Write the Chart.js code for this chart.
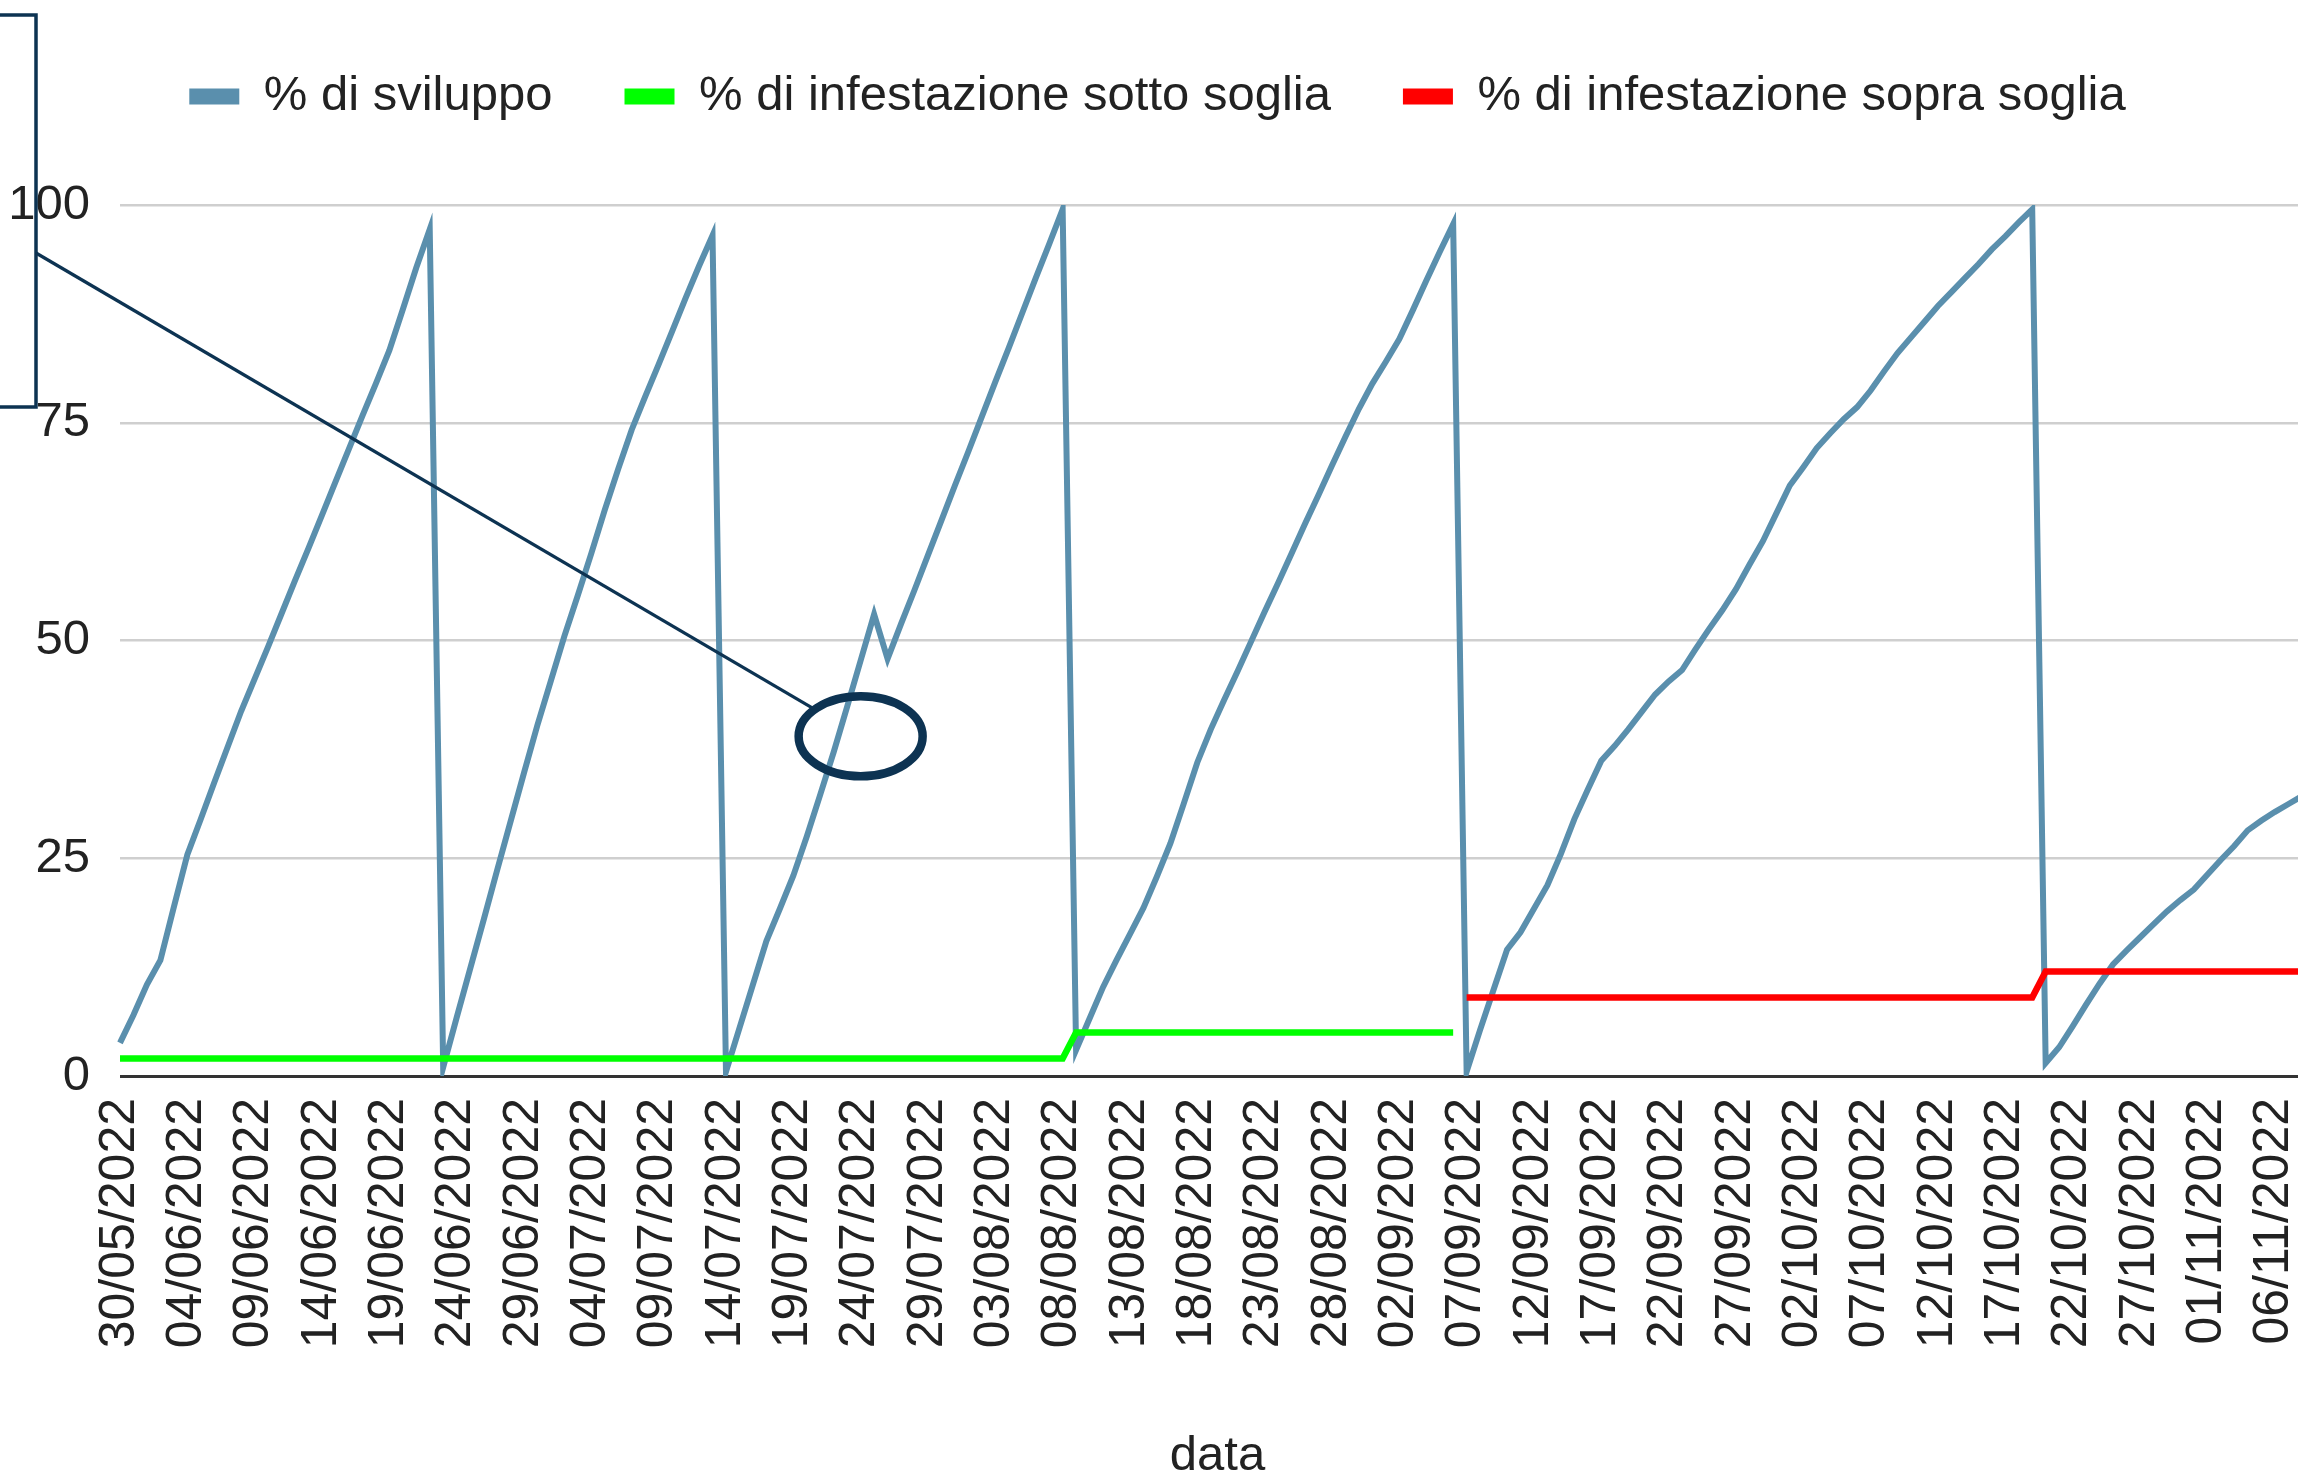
<!DOCTYPE html>
<html lang="it">
<head>
  <meta charset="UTF-8" />
  <title>% di sviluppo e infestazione</title>
  <script src="https://cdn.jsdelivr.net/npm/chart.js"></script>
  <style>
    html, body { margin: 0; padding: 0; background: #fff; overflow: hidden; }
    #wrap { width: 2315px; height: 1480px; }
  </style>
</head>
<body>
<div id="wrap"><canvas id="devChart" width="2315" height="1480"></canvas></div>

<script>
  // one category per day, 30/05/2022 -> 09/11/2022
  const dates = [
    '30/05/2022','31/05/2022',
    '01/06/2022','02/06/2022','03/06/2022','04/06/2022','05/06/2022','06/06/2022','07/06/2022','08/06/2022','09/06/2022','10/06/2022',
    '11/06/2022','12/06/2022','13/06/2022','14/06/2022','15/06/2022','16/06/2022','17/06/2022','18/06/2022','19/06/2022','20/06/2022',
    '21/06/2022','22/06/2022','23/06/2022','24/06/2022','25/06/2022','26/06/2022','27/06/2022','28/06/2022','29/06/2022','30/06/2022',
    '01/07/2022','02/07/2022','03/07/2022','04/07/2022','05/07/2022','06/07/2022','07/07/2022','08/07/2022','09/07/2022','10/07/2022',
    '11/07/2022','12/07/2022','13/07/2022','14/07/2022','15/07/2022','16/07/2022','17/07/2022','18/07/2022','19/07/2022','20/07/2022',
    '21/07/2022','22/07/2022','23/07/2022','24/07/2022','25/07/2022','26/07/2022','27/07/2022','28/07/2022','29/07/2022','30/07/2022','31/07/2022',
    '01/08/2022','02/08/2022','03/08/2022','04/08/2022','05/08/2022','06/08/2022','07/08/2022','08/08/2022','09/08/2022','10/08/2022',
    '11/08/2022','12/08/2022','13/08/2022','14/08/2022','15/08/2022','16/08/2022','17/08/2022','18/08/2022','19/08/2022','20/08/2022',
    '21/08/2022','22/08/2022','23/08/2022','24/08/2022','25/08/2022','26/08/2022','27/08/2022','28/08/2022','29/08/2022','30/08/2022','31/08/2022',
    '01/09/2022','02/09/2022','03/09/2022','04/09/2022','05/09/2022','06/09/2022','07/09/2022','08/09/2022','09/09/2022','10/09/2022',
    '11/09/2022','12/09/2022','13/09/2022','14/09/2022','15/09/2022','16/09/2022','17/09/2022','18/09/2022','19/09/2022','20/09/2022',
    '21/09/2022','22/09/2022','23/09/2022','24/09/2022','25/09/2022','26/09/2022','27/09/2022','28/09/2022','29/09/2022','30/09/2022',
    '01/10/2022','02/10/2022','03/10/2022','04/10/2022','05/10/2022','06/10/2022','07/10/2022','08/10/2022','09/10/2022','10/10/2022',
    '11/10/2022','12/10/2022','13/10/2022','14/10/2022','15/10/2022','16/10/2022','17/10/2022','18/10/2022','19/10/2022','20/10/2022',
    '21/10/2022','22/10/2022','23/10/2022','24/10/2022','25/10/2022','26/10/2022','27/10/2022','28/10/2022','29/10/2022','30/10/2022','31/10/2022',
    '01/11/2022','02/11/2022','03/11/2022','04/11/2022','05/11/2022','06/11/2022','07/11/2022','08/11/2022','09/11/2022'
  ];

  // % di sviluppo (one row per month)
  const sviluppo = [
    3.8, 7,
    10.5, 13.3, 19.4, 25.4, 29.5, 33.7, 37.8, 41.9, 45.6, 49.3, 53.1, 56.9, 60.6, 64.4, 68.2,
    72, 75.8, 79.5, 83.3, 88, 92.8, 97.2, 1, 6.7, 12.3, 17.9, 23.6, 29.2, 34.8, 40.3,
    45.4, 50.5, 55.2, 60, 65, 69.7, 74.2, 78, 81.7, 85.5, 89.3, 93, 96.5, 0.5, 5.5, 10.5,
    15.5, 19.2, 23, 27.5, 32.3, 37.2, 42.4, 47.7, 53, 47.9, 51.9, 55.8, 59.8, 63.8, 67.8,
    71.7, 75.7, 79.7, 83.6, 87.6, 91.6, 95.5, 99.5, 3, 6.6, 10.2, 13.3, 16.3, 19.3, 22.9, 26.7,
    31.3, 36, 39.8, 43.2, 46.5, 49.9, 53.3, 56.6, 60, 63.4, 66.7, 70.1, 73.4, 76.6, 79.5,
    82, 84.6, 87.9, 91.3, 94.6, 97.8, 0.5, 5.3, 9.9, 14.5, 16.5, 19.2, 21.9, 25.5, 29.5,
    32.9, 36.2, 37.9, 39.8, 41.8, 43.8, 45.3, 46.6, 49, 51.3, 53.5, 55.9, 58.7, 61.4, 64.6,
    67.8, 69.9, 72.1, 73.8, 75.4, 76.8, 78.7, 80.9, 83, 84.8, 86.6, 88.4, 90, 91.6, 93.2, 94.9,
    96.4, 98, 99.5, 1.5, 3.3, 5.7, 8.2, 10.6, 12.8, 14.4, 15.9, 17.4, 18.9, 20.2, 21.4,
    23.1, 24.8, 26.4, 28.2, 29.3, 30.3, 31.2, 32.1, 33
  ];

  // % di infestazione sotto soglia
  const sottoSoglia = [
    2, 2,
    2, 2, 2, 2, 2, 2, 2, 2, 2, 2, 2, 2, 2, 2, 2, 2, 2, 2, 2, 2, 2, 2, 2, 2, 2, 2, 2, 2, 2, 2,
    2, 2, 2, 2, 2, 2, 2, 2, 2, 2, 2, 2, 2, 2, 2, 2, 2, 2, 2, 2, 2, 2, 2, 2, 2, 2, 2, 2, 2, 2, 2,
    2, 2, 2, 2, 2, 2, 2, 2, 5, 5, 5, 5, 5, 5, 5, 5, 5, 5, 5, 5, 5, 5, 5, 5, 5, 5, 5, 5, 5, 5, 5,
    5, 5, 5, 5, 5, 5, null, null, null, null, null, null, null, null, null, null, null, null,
    null, null, null, null, null, null, null, null, null, null, null, null,
    null, null, null, null, null, null, null, null, null, null, null, null, null, null, null, null,
    null, null, null, null, null, null, null, null, null, null, null, null, null, null, null,
    null, null, null, null, null, null, null, null, null
  ];

  // % di infestazione sopra soglia
  const sopraSoglia = [
    null, null,
    null, null, null, null, null, null, null, null, null, null, null, null, null, null, null,
    null, null, null, null, null, null, null, null, null, null, null, null, null, null, null,
    null, null, null, null, null, null, null, null, null, null, null, null, null, null, null, null,
    null, null, null, null, null, null, null, null, null, null, null, null, null, null, null,
    null, null, null, null, null, null, null, null, null, null, null, null, null, null, null, null,
    null, null, null, null, null, null, null, null, null, null, null, null, null, null, null,
    null, null, null, null, null, null, 9, 9, 9, 9, 9, 9, 9, 9, 9, 9, 9, 9,
    9, 9, 9, 9, 9, 9, 9, 9, 9, 9, 9, 9,
    9, 9, 9, 9, 9, 9, 9, 9, 9, 9, 9, 9, 9, 9, 9, 9,
    9, 9, 9, 12, 12, 12, 12, 12, 12, 12, 12, 12, 12, 12, 12,
    12, 12, 12, 12, 12, 12, 12, 12, 12
  ];

  const yTicks = [0, 25, 50, 75, 100];
  const labelEvery = 5;
  const seriesNames = ['% di sviluppo', '% di infestazione sotto soglia', '% di infestazione sopra soglia'];
  const xTitle = 'data';

  // hand drawn callout on top of the chart
  const circleAt = { date: '24/07/2022', value: 39 };

  Chart.defaults.font.family = "'Liberation Sans', Arial, sans-serif";
  Chart.defaults.color = '#222';

  const callout = {
    id: 'callout',
    afterDatasetsDraw(chart) {
      const { ctx, scales: { x, y } } = chart;
      const cx = x.getPixelForValue(dates.indexOf(circleAt.date));
      const cy = y.getPixelForValue(circleAt.value);
      const rx = 62, ry = 40;
      const ax = 36, ay = 253;
      ctx.save();
      ctx.strokeStyle = '#0d3352';
      // box cut by the left edge
      ctx.lineWidth = 3.5;
      ctx.beginPath();
      ctx.moveTo(-5, 15); ctx.lineTo(ax, 15); ctx.lineTo(ax, 407); ctx.lineTo(-5, 407);
      ctx.stroke();
      // connector stops on the ellipse
      const dx = ax - cx, dy = ay - cy;
      const t = 1 / Math.sqrt((dx / rx) ** 2 + (dy / ry) ** 2);
      ctx.lineWidth = 3.2;
      ctx.beginPath();
      ctx.moveTo(ax, ay);
      ctx.lineTo(cx + dx * t, cy + dy * t);
      ctx.stroke();
      ctx.lineWidth = 8.5;
      ctx.beginPath();
      ctx.ellipse(cx, cy, rx, ry, 0, 0, Math.PI * 2);
      ctx.stroke();
      ctx.restore();
    }
  };

  new Chart(document.getElementById('devChart'), {
    type: 'line',
    data: {
      labels: dates,
      datasets: [
        { label: seriesNames[0], data: sviluppo, borderColor: '#5a8fad', backgroundColor: '#5a8fad', borderWidth: 6, order: 2 },
        { label: seriesNames[1], data: sottoSoglia, borderColor: '#00ff00', backgroundColor: '#00ff00', borderWidth: 6.5, order: 1 },
        { label: seriesNames[2], data: sopraSoglia, borderColor: '#ff0000', backgroundColor: '#ff0000', borderWidth: 6.5, order: 1 }
      ]
    },
    options: {
      responsive: false,
      animation: false,
      events: [],
      layout: { padding: 0 },
      elements: { point: { radius: 0 }, line: { tension: 0 } },
      plugins: {
        tooltip: { enabled: false },
        legend: {
          position: 'top',
          labels: {
            boxWidth: 50,
            boxHeight: 16,
            padding: 72,
            color: '#222',
            font: { size: 49 },
            sort: (a, b) => a.datasetIndex - b.datasetIndex,
            generateLabels(chart) {
              const items = Chart.defaults.plugins.legend.labels.generateLabels(chart);
              items.forEach(it => { it.lineWidth = 0; it.fillStyle = it.strokeStyle; });
              return items;
            }
          }
        }
      },
      scales: {
        x: {
          position: 'bottom',
          grid: { display: false, drawTicks: false },
          border: { display: false },
          ticks: {
            autoSkip: false,
            minRotation: 90,
            maxRotation: 90,
            padding: 22,
            color: '#222',
            font: { size: 50 },
            callback: (v, i) => (i % labelEvery === 0 ? dates[i] : '')
          },
          title: { display: true, text: xTitle, color: '#222', font: { size: 49 }, padding: { top: 0, bottom: -6 } },
          afterFit(s) { s.height = 404; s.paddingLeft = 0; s.paddingRight = 0; }
        },
        // empty band between the legend and the plot
        gap: {
          type: 'category',
          position: 'top',
          grid: { display: false, drawTicks: false },
          border: { display: false },
          ticks: { display: false },
          afterFit(s) { s.height = 74; s.paddingLeft = 0; s.paddingRight = 0; }
        },
        y: {
          min: yTicks[0],
          max: yTicks[yTicks.length - 1],
          afterBuildTicks(s) { s.ticks = yTicks.map(v => ({ value: v })); },
          grid: {
            drawTicks: false,
            color: c => (c.tick && c.tick.value === 0 ? '#333' : '#cfcfcf'),
            lineWidth: c => (c.tick && c.tick.value === 0 ? 3 : 2.5)
          },
          border: { display: false },
          ticks: { padding: 30, color: '#222', font: { size: 49 } },
          afterFit(s) { s.width = 120; s.paddingTop = 0; s.paddingBottom = 0; }
        }
      }
    },
    plugins: [callout]
  });
</script>
</body>
</html>
